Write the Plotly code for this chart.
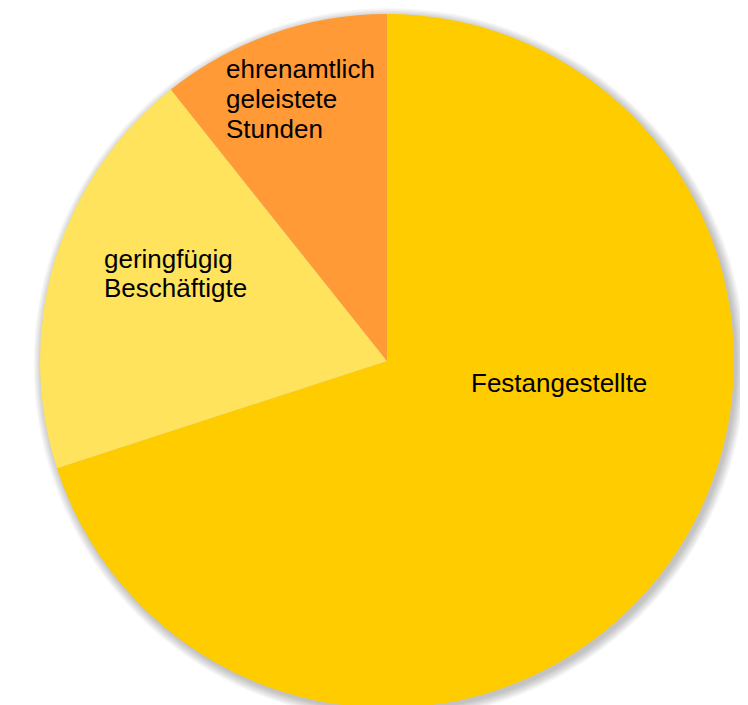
import plotly.graph_objects as go

# Data
categories = ["Festangestellte", "geringfügig Beschäftigte", "ehrenamtlich geleistete Stunden"]
values = [70.0, 19.3, 10.7]
label_lines = [["Festangestellte"], ["geringfügig", "Beschäftigte"], ["ehrenamtlich", "geleistete", "Stunden"]]
colors = ["#FFCC00", "#FFE35C", "#FF9A36"]

W, H = 748, 705
OFF = 8  # page body margin offset
# pie geometry (screen pixels)
cx, cy, r = 387 - OFF, 361 - OFF, 347

fig = go.Figure()
fig.add_trace(go.Pie(
    labels=categories,
    values=values,
    sort=False,
    direction="clockwise",
    rotation=0,
    marker=dict(colors=colors, line=dict(width=0)),
    textinfo="none",
    hoverinfo="label+percent",
    showlegend=False,
    domain=dict(x=[(cx - r) / W, (cx + r) / W], y=[1 - (cy + r) / H, 1 - (cy - r) / H]),
))

# soft shadow behind the pie
shapes = []
for i in range(8):
    rr = r + 0.5 + i * 1.2
    sx, sy = cx + 2.5, cy + 3
    shapes.append(dict(
        type="circle", xref="paper", yref="paper", layer="below",
        x0=(sx - rr) / W, x1=(sx + rr) / W,
        y0=1 - (sy + rr) / H, y1=1 - (sy - rr) / H,
        fillcolor="rgba(0,0,0,0.03)", line=dict(width=0),
    ))

FS = 26
# label layout: (x in screen px, anchor, baselines in screen px)
label_layout = [
    (558.7, "center", [391.7]),
    (104.3, "left", [268.3, 296.7]),
    (226.0, "left", [78.0, 108.0, 138.0]),
]
annotations = []
for lines, (x, anc, baselines) in zip(label_lines, label_layout):
    for line, bl in zip(lines, baselines):
        xf = x - OFF - (2.5 if anc == "left" else 0)
        yf = bl - OFF - 0.3465 * FS
        annotations.append(dict(
            text=line, x=xf / W, y=1 - yf / H, xref="paper", yref="paper",
            xanchor=anc, yanchor="middle", showarrow=False,
            font=dict(family="Liberation Sans, Arial, sans-serif", size=FS, color="#000000"),
        ))

fig.update_layout(
    width=W, height=H,
    margin=dict(l=0, r=0, t=0, b=0),
    paper_bgcolor="#FFFFFF",
    plot_bgcolor="#FFFFFF",
    shapes=shapes,
    annotations=annotations,
)

fig.write_html("out.html")
